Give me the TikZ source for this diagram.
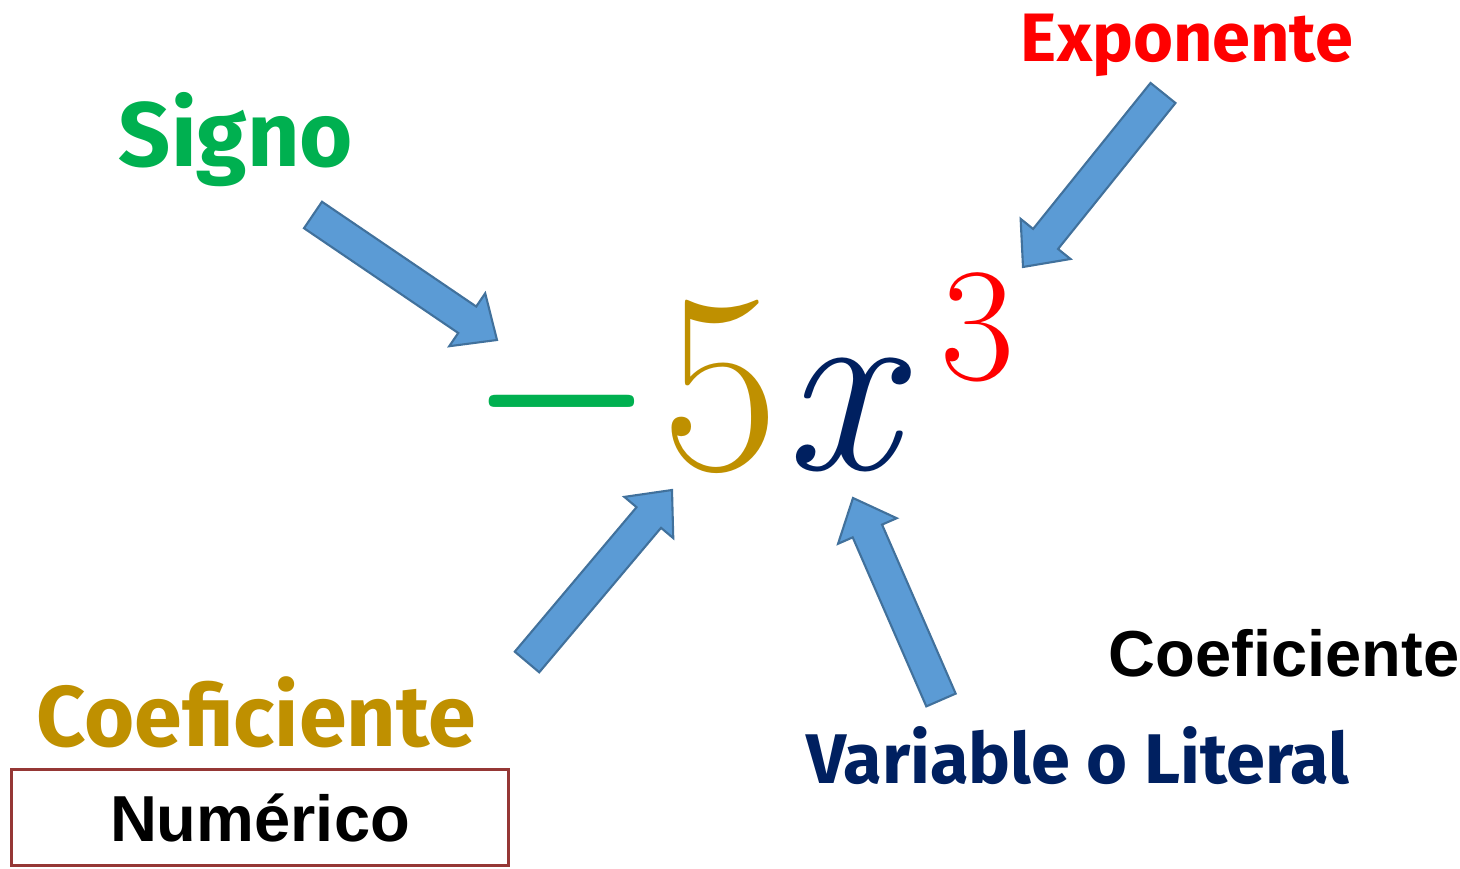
\documentclass[tikz,border=0pt]{standalone}
\usepackage{fontspec}
\usepackage{tikz}
\usetikzlibrary{calc}
\newfontfamily\handfont{Fira Sans}
\newfontfamily\arialfont{Liberation Sans}
\definecolor{signgreen}{RGB}{0,176,80}
\definecolor{expred}{RGB}{255,0,0}
\definecolor{coefgold}{RGB}{191,144,0}
\definecolor{varnavy}{RGB}{0,32,96}
\definecolor{arrowblue}{RGB}{91,155,213}
\definecolor{arrowedge}{RGB}{65,113,156}
\definecolor{boxred}{RGB}{149,55,53}

% block arrow from tail #1 to tip #2
\newcommand{\blockarrow}[2]{%
  \coordinate (ba-h) at ($(#2)!0.36cm!(#1)$);
  \draw[blockarrow] ($(#1)!0.16cm!90:(#2)$) -- ($(ba-h)!0.16cm!90:(#2)$)
    -- ($(ba-h)!0.32cm!90:(#2)$) -- (#2) -- ($(ba-h)!0.32cm!-90:(#2)$)
    -- ($(ba-h)!0.16cm!-90:(#2)$) -- ($(#1)!0.16cm!-90:(#2)$) -- cycle;}

\begin{document}
\begin{tikzpicture}[
    hand/.style={font=\handfont\bfseries\fontsize{#1}{#1}\selectfont, inner sep=0pt},
    caption/.style={font=\arialfont\bfseries\fontsize{18.5}{20}\selectfont, inner sep=0pt},
    term/.style={inner sep=0pt, anchor=base},
    blockarrow/.style={draw=arrowedge, fill=arrowblue, line width=0.6pt, line join=miter},
  ]
    \useasboundingbox (0,0) rectangle (14.6,8.69);

    % the monomial
    \node[inner sep=0pt, text=signgreen, font=\fontsize{66}{66}\selectfont] (minus) at (5.62,4.27) {\scalebox{1}[1.5]{−}};
    \node[term, text=coefgold, font=\fontsize{73}{73}\selectfont] (five) at (7.20,3.99) {5};
    \node[term, text=varnavy, font=\itshape\fontsize{72}{72}\selectfont] (var) at (8.40,3.99) {x};
    \node[term, text=expred, font=\fontsize{46}{46}\selectfont] (expo) at (9.78,4.89) {3};

    % labels
    \node[hand=26, text=signgreen] (signo) at (2.36,7.29) {Signo};
    \node[hand=19.5, text=expred] (exponente) at (11.87,8.24) {Exponente};
    \node[hand=24.5, text=coefgold] (coef) at (2.56,1.57) {Coeficiente};
    \node[hand=20, text=varnavy] (literal) at (10.78,1.13) {Variable o Literal};
    \node[caption, anchor=base] (coefword) at (12.84,1.92) {Coeficiente};
    \node[caption, draw=boxred, line width=1pt, minimum width=4.97cm, minimum height=0.96cm] (numerico) at (2.60,0.515) {Numérico};

    % arrow ends
    \coordinate (signo-a) at (3.13,6.54);
    \coordinate (signo-b) at (4.97,5.29);
    \coordinate (expo-a) at (11.63,7.76);
    \coordinate (expo-b) at (10.23,6.02);
    \coordinate (coef-a) at (5.27,2.07);
    \coordinate (coef-b) at (6.72,3.79);
    \coordinate (var-a) at (9.41,1.69);
    \coordinate (var-b) at (8.53,3.71);

    \blockarrow{signo-a}{signo-b}
    \blockarrow{expo-a}{expo-b}
    \blockarrow{coef-a}{coef-b}
    \blockarrow{var-a}{var-b}
\end{tikzpicture}
\end{document}
